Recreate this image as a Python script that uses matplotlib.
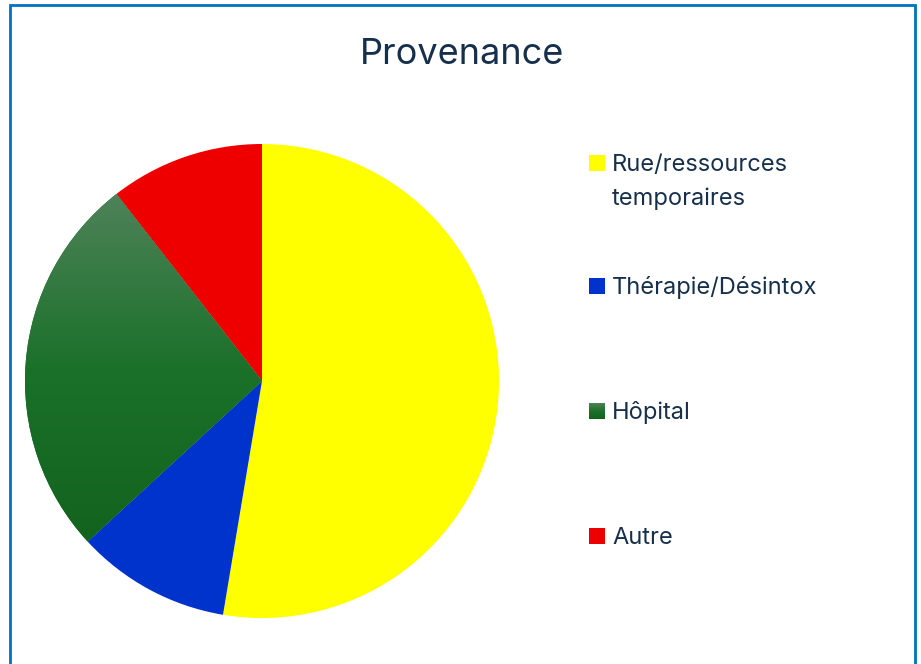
import numpy as np
import matplotlib
matplotlib.use("Agg")
import matplotlib.pyplot as plt
from matplotlib.patches import Rectangle
from matplotlib.colors import LinearSegmentedColormap

title = "Provenance"
labels = ["Rue/ressources\ntemporaires", "Thérapie/Désintox", "Hôpital", "Autre"]
values = [10, 2, 5, 2]
colors = ["#FFFF00", "#0033CC", "#1A6E28", "#EE0000"]
green_stops = ["#4E8259", "#1B712A", "#12631E"]

text_color = "#16304C"
plt.rcParams['font.family'] = ['Inter', 'DejaVu Sans']

W, H = 921, 664
fig = plt.figure(figsize=(W / 100, H / 100), dpi=100)
fig.patch.set_facecolor("white")

# outer frame (bottom edge runs off the picture)
fig.add_artist(Rectangle((10 / W, -0.05), 905 / W, 1.05 - 5 / H, transform=fig.transFigure,
                         fill=False, edgecolor="#0070C0", linewidth=2))

fig.text(462 / W, 1 - 64 / H, title, ha="center", va="baseline", fontsize=26, color=text_color)

# pie
cx, cy, r = 262, 381, 237
ax = fig.add_axes([(cx - r) / W, (H - cy - r) / H, 2 * r / W, 2 * r / H])
wedges, _ = ax.pie(values, colors=colors, startangle=90, counterclock=False,
                   wedgeprops=dict(linewidth=0))
ax.set_aspect("equal")
ax.axis("off")

# green gradient on the Hôpital slice
gw = wedges[2]
gcmap = LinearSegmentedColormap.from_list("g", green_stops)
ys = [v[1] for v in gw.get_path().vertices]
grad = np.linspace(0, 1, 256).reshape(-1, 1)
im = ax.imshow(grad, cmap=gcmap, extent=[-1, 0, min(ys), max(ys)], origin="upper",
               aspect="auto", zorder=gw.get_zorder() + 0.1)
im.set_clip_path(gw)
ax.set_xlim(-1, 1)
ax.set_ylim(-1, 1)

# legend
baselines = [171, 294, 419, 544]
for lab, col, y in zip(labels, colors, baselines):
    mx, ms = 589, 16
    if lab == "Hôpital":
        lax = fig.add_axes([mx / W, (H - y) / H, ms / W, ms / H])
        lax.imshow(grad, cmap=gcmap, aspect="auto")
        lax.axis("off")
    else:
        fig.add_artist(Rectangle((mx / W, (H - y) / H), ms / W, ms / H,
                                 transform=fig.transFigure, facecolor=col, edgecolor="none"))
    for i, line in enumerate(lab.split("\n")):
        fig.text(612 / W, 1 - (y + 34 * i) / H, line, ha="left", va="baseline", fontsize=17,
                 color=text_color)

fig.savefig("out.png", dpi=100)
